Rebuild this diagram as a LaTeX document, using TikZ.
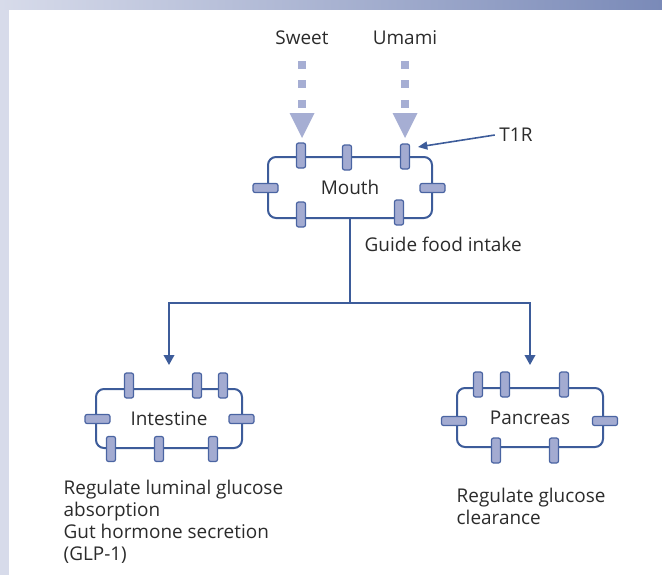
\documentclass[tikz,border=0pt]{standalone}
\usepackage{fontspec}
\setmainfont{Open Sans}
\usetikzlibrary{arrows.meta,positioning}

\definecolor{boxline}{HTML}{3D5C9A}
\definecolor{recfill}{HTML}{A3ABD1}
\definecolor{recline}{HTML}{4A64A2}
\definecolor{tastecol}{HTML}{A6AED3}
\definecolor{textcol}{HTML}{2B2B2B}
\definecolor{barlight}{HTML}{D7DBEA}
\definecolor{bardark}{HTML}{7A8AB8}

\begin{document}
\begin{tikzpicture}
[
	x=0.75pt, y=-0.75pt,
	every node/.style={text=textcol, font=\fontsize{14.2}{16.5}\selectfont},
	organ/.style={draw=boxline, line width=1.5pt, rounded corners=6pt, minimum width=109.5pt, minimum height=44.25pt, inner sep=0pt},
	vrec/.style={draw=recline, fill=recfill, line width=0.9pt, rounded corners=1.5pt, minimum width=6.75pt, minimum height=18.75pt, inner sep=0pt},
	hrec/.style={vrec, minimum width=18.75pt, minimum height=6.75pt},
	link/.style={draw=boxline, line width=1.2pt},
	taste/.style={draw=tastecol, line width=6pt, dash pattern=on 6pt off 8.6pt}
]

	\useasboundingbox (0,0) rectangle (662,575);

	% frame
	\fill[barlight] (0,0) rectangle (9,575);
	\shade[left color=barlight, right color=bardark] (0,0) rectangle (662,9);

	% organs
	\node[organ, minimum width=123pt, minimum height=45.75pt] (mouth) at (350,187.5) {Mouth};
	\node[organ] (intestine) at (169,418.5) {Intestine};
	\node[organ] (pancreas) at (530,417.5) {Pancreas};

	% receptors
	\foreach \x/\y [count=\i] in {301/155.5, 347/157.5, 405/156.5, 301/214.5, 399/212.5} {
		\node[vrec] (mr\i) at (\x,\y) {};
	}
	\node[hrec] (ml) at (265.5,188) {};
	\node[hrec] (mrr) at (432.5,188) {};

	\foreach \x/\y [count=\i] in {129/385.5, 197/385.5, 223/385.5, 111/449, 159/449, 213/449} {
		\node[vrec] (ir\i) at (\x,\y) {};
	}
	\node[hrec] (il) at (97.5,419) {};
	\node[hrec] (irr) at (241.5,419) {};

	\foreach \x/\y [count=\i] in {478/384.5, 505/384.5, 564/384.5, 496/450.5, 554/450.5} {
		\node[vrec] (pr\i) at (\x,\y) {};
	}
	\node[hrec] (pl) at (454,421) {};
	\node[hrec] (prr) at (605,421) {};

	% tastes
	\node (sweet) at (302,38) {Sweet};
	\node (umami) at (405,38) {Umami};
	\foreach \x in {302,405} {
		\draw[taste] (\x,61) -- (\x,108);
		\fill[tastecol] (\x-12.5,113) -- (\x+12.5,113) -- (\x,138) -- cycle;
	}

	\node (t1r) at (516,135) {T1R};
	\coordinate (t1rtip) at (418,147);
	\draw[link, -{Triangle[width=6pt,length=7pt]}] (t1r.west) -- (t1rtip);

	% connectors
	\node[anchor=west] (guide) at (360,244) {Guide food intake};
	\coordinate (split) at (mouth.south |- 0,303);
	\coordinate (inttip) at (intestine.north |- 0,365);
	\coordinate (pantip) at (pancreas.north |- 0,365);
	\draw[link] (mouth.south) -- (split);
	\draw[link, -{Triangle[width=8pt,length=7.5pt]}] (split) -| (inttip);
	\draw[link, -{Triangle[width=8pt,length=7.5pt]}] (split) -| (pantip);

	% roles
	\node[anchor=west, align=left] (introle) at (59,521.5) {Regulate luminal glucose\\absorption\\Gut hormone secretion\\(GLP-1)};
	\node[anchor=west, align=left] (panrole) at (452,506) {Regulate glucose\\clearance};

\end{tikzpicture}
\end{document}
